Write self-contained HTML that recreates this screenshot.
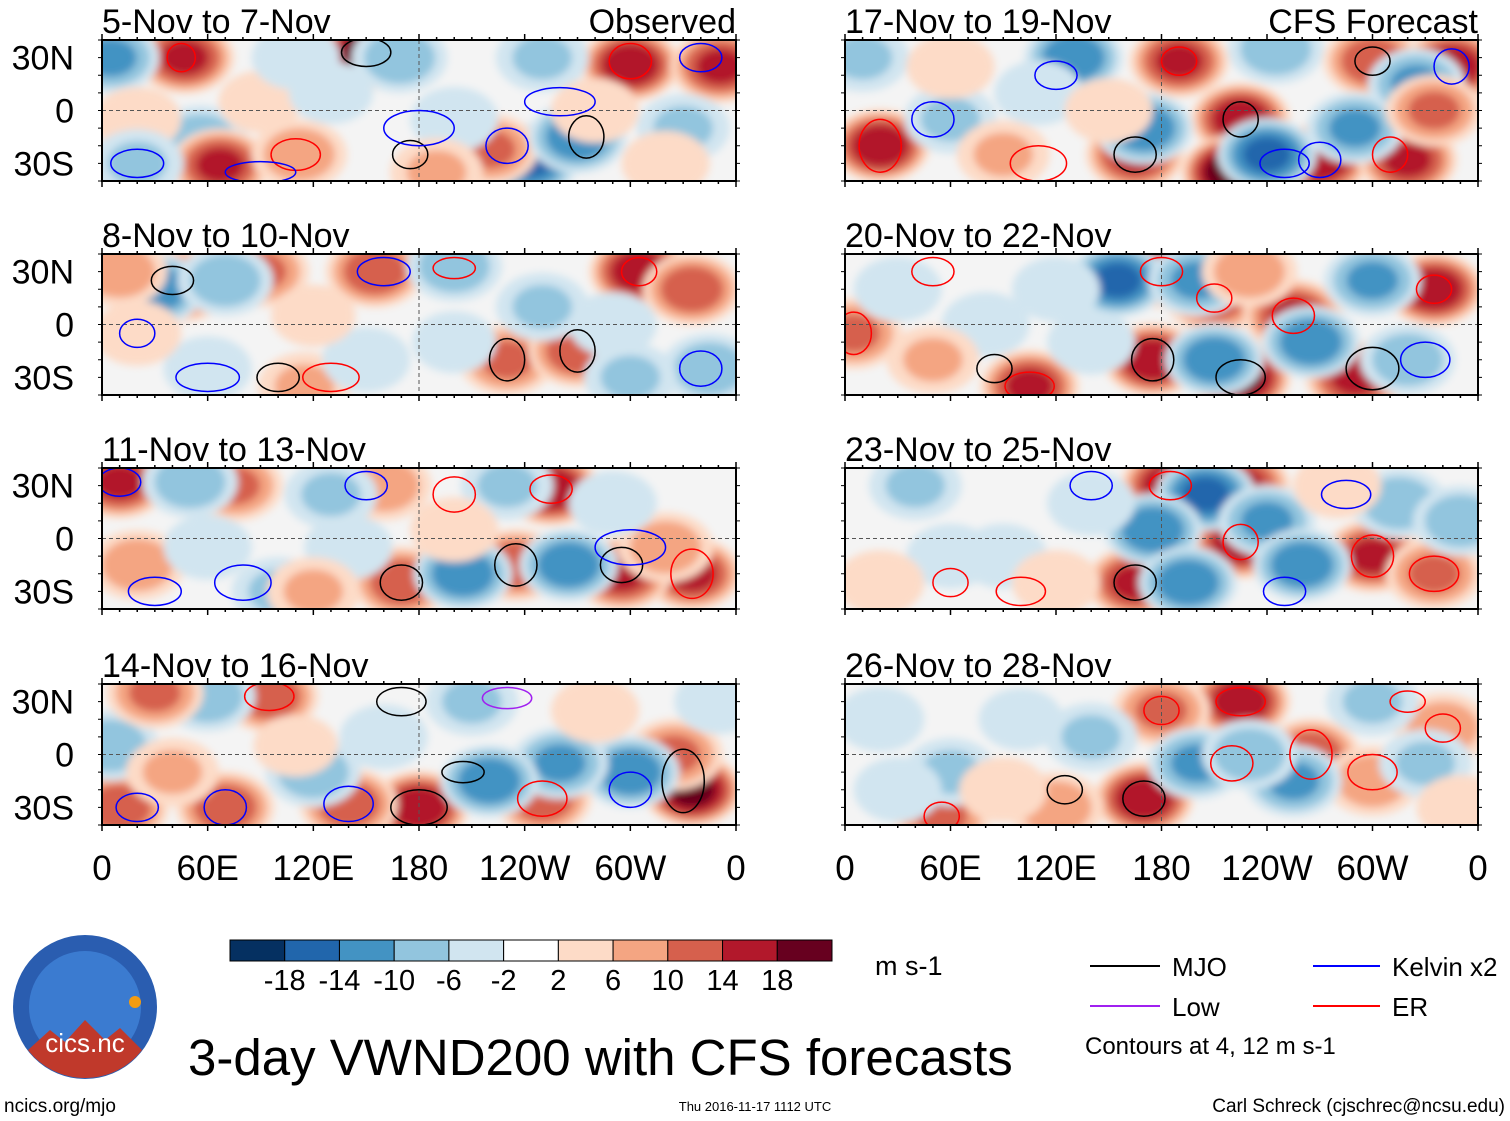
<!DOCTYPE html>
<html><head><meta charset="utf-8">
<style>
body{margin:0;background:#fff;width:1510px;height:1121px;overflow:hidden;font-family:"Liberation Sans",sans-serif;}
svg text{font-family:"Liberation Sans",sans-serif;}
</style></head>
<body>
<svg id="fig" width="1510" height="1121" viewBox="0 0 1510 1121" xmlns="http://www.w3.org/2000/svg" style="position:absolute;left:0;top:0">
<defs>
<filter id="blur" x="-20%" y="-20%" width="140%" height="140%"><feGaussianBlur stdDeviation="4"/></filter>
</defs>
</svg>
<script>
const NS="http://www.w3.org/2000/svg";
const svg=document.getElementById('fig');
// ---- data ----
const panelTitles=["5-Nov to 7-Nov","8-Nov to 10-Nov","11-Nov to 13-Nov","14-Nov to 16-Nov","17-Nov to 19-Nov","20-Nov to 22-Nov","23-Nov to 25-Nov","26-Nov to 28-Nov"];
const xTickLabels=["0","60E","120E","180","120W","60W","0"];
const xTickLons=[0,60,120,180,240,300,360];
const latLabels=["30N","0","30S"];
const latValues=[30,0,-30];
const cbLevels=[-18,-14,-10,-6,-2,2,6,10,14,18];
const cbColors=["#053061","#2166ac","#4393c3","#92c5de","#d1e5f0","#ffffff","#fddbc7","#f4a582","#d6604d","#b2182b","#67001f"];
// blobs per panel: [lon, lat, value]
const blobs0=[[47,30,16],[152,33,22],[300,26,18],[351,25,16],[5,30,-12],[56,-17,-10],[67,-31,16],[243,-28,-16],[220,-22,12],[169,30,-10],[112,-25,10],[270,-15,-14],[200,-5,-6],[330,-10,-8],[250,30,-8],[20,-5,6],[90,5,5],[130,10,-5],[280,0,6],[110,30,-6],[20,-30,-8],[190,-35,8],[320,-30,6]];
const blobs1=[[45,22,16],[90,30,12],[155,30,14],[305,30,18],[335,20,14],[30,20,-14],[70,25,-10],[230,-20,12],[270,-15,14],[200,33,-10],[250,10,-8],[115,-35,8],[345,-25,-10],[10,30,10],[300,-30,-8],[60,-25,-6],[150,-20,-6],[200,-10,-5],[120,5,5],[290,0,-6],[20,-5,6]];
const blobs2=[[10,32,16],[75,30,12],[160,30,10],[255,28,18],[335,-20,16],[295,-20,16],[235,-15,14],[170,-25,14],[205,-20,-14],[265,-15,-14],[50,32,-10],[130,25,-8],[320,-5,10],[20,-15,10],[100,-30,-8],[230,30,-8],[60,-5,-6],[140,-5,-6],[200,5,6],[290,20,-6],[120,-30,8]];
const blobs3=[[10,-30,14],[95,33,14],[180,-30,18],[140,-28,14],[70,-30,14],[335,-20,20],[325,0,12],[250,-25,14],[300,-10,-14],[260,-5,-12],[220,-15,-14],[60,33,-10],[210,30,-8],[120,-10,-10],[5,5,-10],[30,35,12],[160,10,-6],[40,-10,8],[280,25,6],[110,5,5],[350,30,-6]];
const blobs4=[[20,-20,18],[190,28,16],[300,28,14],[345,25,18],[225,-5,18],[165,-25,16],[270,-28,18],[320,-28,16],[220,-35,22],[130,30,-14],[170,-10,-14],[240,-25,-16],[290,-10,-12],[325,15,-12],[245,35,-10],[60,-5,-8],[10,30,-8],[335,0,12],[90,-25,8],[110,10,-6],[60,25,6],[150,0,6]];
const blobs5=[[180,30,18],[225,-30,20],[210,15,14],[335,20,18],[255,5,16],[175,-20,18],[105,-35,16],[290,-30,16],[5,-5,12],[155,25,-16],[210,-20,-14],[265,-10,-14],[300,25,-12],[200,25,-12],[230,30,10],[320,-20,-10],[80,0,-6],[50,-20,8],[120,20,-6],[30,20,-6],[140,-10,-6]];
const blobs6=[[185,30,18],[225,30,16],[225,-2,18],[165,-25,16],[300,-10,16],[335,-20,12],[205,25,-16],[175,5,-14],[240,10,-12],[260,-15,-14],[195,-25,-14],[315,20,-10],[350,10,-10],[90,-10,-6],[40,30,-8],[120,-25,6],[60,-10,-6],[20,-25,6],[140,20,-6],[280,30,6]];
const blobs7=[[170,-25,18],[225,30,18],[180,25,12],[265,0,14],[120,-30,10],[55,-35,12],[340,15,10],[300,-15,10],[200,-5,-12],[255,-15,-12],[230,0,-10],[140,10,-8],[60,-10,-8],[330,-5,-8],[20,20,-6],[300,30,-8],[90,-20,6],[100,20,-5],[30,-20,-6],[350,-30,6]];
const blobsAll=[blobs0,blobs1,blobs2,blobs3,blobs4,blobs5,blobs6,blobs7];
// contours per panel: [lon, lat, rx(deg), ry(deg), type] type: 0 MJO,1 Kelvin,2 ER,3 Low
const cont0=[[150,33,14,8,0],[300,28,12,10,2],[45,30,8,8,2],[110,-25,14,9,2],[175,-25,10,8,0],[230,-20,12,10,1],[275,-15,10,12,0],[260,5,20,8,1],[180,-10,20,10,1],[340,30,12,8,1],[20,-30,15,8,1],[90,-35,20,6,1]];
const cont1=[[40,25,12,8,0],[160,30,15,8,1],[305,30,10,8,2],[230,-20,10,12,0],[270,-15,10,12,0],[340,-25,12,10,1],[130,-30,16,8,2],[60,-30,18,8,1],[20,-5,10,8,1],[200,32,12,6,2],[100,-30,12,8,0]];
const cont2=[[10,32,12,8,1],[150,30,12,8,1],[255,28,12,8,2],[335,-20,12,14,2],[295,-15,12,10,0],[235,-15,12,12,0],[170,-25,12,10,0],[300,-5,20,10,1],[80,-25,16,10,1],[200,25,12,10,2],[30,-30,15,8,1]];
const cont3=[[20,-30,12,8,1],[95,33,14,8,2],[180,-30,16,10,0],[140,-28,14,10,1],[70,-30,12,10,1],[330,-15,12,18,0],[250,-25,14,10,2],[205,-10,12,6,0],[170,30,14,8,0],[230,32,14,6,3],[300,-20,12,10,1]];
const cont4=[[20,-20,12,15,2],[190,28,10,8,2],[300,28,10,8,0],[345,25,10,10,1],[225,-5,10,10,0],[165,-25,12,10,0],[270,-28,12,10,1],[110,-30,16,10,2],[250,-30,14,8,1],[310,-25,10,10,2],[50,-5,12,10,1],[120,20,12,8,1]];
const cont5=[[180,30,12,8,2],[225,-30,14,10,0],[210,15,10,8,2],[335,20,10,8,2],[255,5,12,10,2],[175,-20,12,12,0],[105,-35,14,8,2],[300,-25,15,12,0],[5,-5,10,12,2],[330,-20,14,10,1],[50,30,12,8,2],[85,-25,10,8,0]];
const cont6=[[185,30,12,8,2],[225,-2,10,10,2],[165,-25,12,10,0],[300,-10,12,12,2],[335,-20,14,10,2],[250,-30,12,8,1],[60,-25,10,8,2],[100,-30,14,8,2],[285,25,14,8,1],[140,30,12,8,1]];
const cont7=[[170,-25,12,10,0],[225,30,14,8,2],[180,25,10,8,2],[265,0,12,14,2],[125,-20,10,8,0],[55,-35,10,8,2],[340,15,10,8,2],[300,-10,14,10,2],[220,-5,12,10,2],[320,30,10,6,2]];
const contAll=[cont0,cont1,cont2,cont3,cont4,cont5,cont6,cont7];
const contColors=["#000000","#0000ff","#ff0000","#a020f0"];
// ---- layout ----
const colX=[102,845], colW=[634,633], rowY=[40,254,468,684], PH=141;
function el(tag,attrs,parent){const e=document.createElementNS(NS,tag);for(const k in attrs)e.setAttribute(k,attrs[k]);(parent||svg).appendChild(e);return e;}
function colorFor(v){let i=0;while(i<cbLevels.length&&v>cbLevels[i])i++;return cbColors[i];}
for(let p=0;p<8;p++){
  const c=p<4?0:1, r=p%4;
  const x0=colX[c], w=colW[c], y0=rowY[r];
  const xs=lon=>x0+lon/360*w, ys=lat=>y0+(40-lat)/80*PH;
  const g=el('g',{});
  
  
  const cid='clip'+p;
  const cp=el('clipPath',{id:cid},svg.querySelector('defs'));
  el('rect',{x:x0,y:y0,width:w,height:PH},cp);
  el('rect',{x:x0,y:y0,width:w,height:PH,fill:'#f4f4f4'},g);
  const field=el('g',{'clip-path':'url(#'+cid+')'},g);
  const fb=el('g',{filter:'url(#blur)'},field);
  blobsAll[p].forEach(b=>{
    const [lon,lat,v]=b, a=Math.abs(v), s=Math.sign(v);
    const lv=[2,6,10,14,18].filter(l=>l<a);
    lv.forEach(l=>{
      const f=Math.sqrt(1-l/a/1.1);
      const e=el('ellipse',{cx:xs(lon),cy:ys(lat),rx:f*30/360*w,ry:f*22/80*PH,fill:colorFor(s*(l+1))},fb);
      
      
    });
  });
  el('line',{x1:x0,x2:x0+w,y1:ys(0),y2:ys(0),stroke:'#555','stroke-dasharray':'4,3','stroke-width':1},field);
  el('line',{x1:xs(180),x2:xs(180),y1:y0,y2:y0+PH,stroke:'#555','stroke-dasharray':'4,3','stroke-width':1},field);
  contAll[p].forEach(q=>{
    const e=el('ellipse',{cx:xs(q[0]),cy:ys(q[1]),rx:q[2]/360*w,ry:q[3]/80*PH,fill:'none',stroke:contColors[q[4]],'stroke-width':1.5},field);
    
    
  });
  el('rect',{x:x0,y:y0,width:w,height:PH,fill:'none',stroke:'#000','stroke-width':2},g);
  for(let lon=0;lon<=360;lon+=10){
    const L=lon%60==0?6:3;
    el('line',{x1:xs(lon),x2:xs(lon),y1:y0,y2:y0-L,stroke:'#000','stroke-width':1.5},g);
    el('line',{x1:xs(lon),x2:xs(lon),y1:y0+PH,y2:y0+PH+L,stroke:'#000','stroke-width':1.5},g);
  }
  for(let lat=-40;lat<=40;lat+=10){
    el('line',{x1:x0,x2:x0-4,y1:ys(lat),y2:ys(lat),stroke:'#000'},g);
    el('line',{x1:x0+w,x2:x0+w+4,y1:ys(lat),y2:ys(lat),stroke:'#000'},g);
  }
  const t=el('text',{x:x0,y:y0-7,'font-size':34},g);t.textContent=panelTitles[p];
  
  
  if(r==0){const t2=el('text',{x:x0+w,y:y0-7,'font-size':34,'text-anchor':'end'},g);t2.textContent=c==0?'Observed':'CFS Forecast';
    
    }
  if(c==0){latValues.forEach((lt,i)=>{const tl=el('text',{x:74,y:ys(lt)+12,'font-size':34,'text-anchor':'end'},g);tl.textContent=latLabels[i];
    
    });}
  if(r==3){xTickLons.forEach((ln,i)=>{const tl=el('text',{x:xs(ln),y:880,'font-size':35,'text-anchor':'middle'},g);tl.textContent=xTickLabels[i];
    
    });}
}
// colorbar
const cb=el('g',{});


const cbx=230,cbw=602,cby=940,cbh=21,bw=cbw/cbColors.length;
cbColors.forEach((col,i)=>el('rect',{x:cbx+i*bw,y:cby,width:bw,height:cbh,fill:col,stroke:'#000','stroke-width':1},cb));
cbLevels.forEach((lv,i)=>{const t=el('text',{x:cbx+(i+1)*bw,y:990,'font-size':29,'text-anchor':'middle'},cb);t.textContent=lv;
  
  });
</script>
<svg style="position:absolute;left:0;top:0" width="1510" height="1121">
<text x="875" y="975" font-size="27">m s-1</text>
<line x1="1090" y1="966" x2="1160" y2="966" stroke="#000" stroke-width="2"/>
<text x="1172" y="976" font-size="26">MJO</text>
<line x1="1090" y1="1006" x2="1160" y2="1006" stroke="#a020f0" stroke-width="2"/>
<text x="1172" y="1016" font-size="26">Low</text>
<line x1="1313" y1="966" x2="1380" y2="966" stroke="#0000ff" stroke-width="2"/>
<text x="1392" y="976" font-size="26">Kelvin x2</text>
<line x1="1313" y1="1006" x2="1380" y2="1006" stroke="#ff0000" stroke-width="2"/>
<text x="1392" y="1016" font-size="26">ER</text>
<text x="1085" y="1054" font-size="24">Contours at 4, 12 m s-1</text>
<text x="188" y="1075" font-size="51">3-day VWND200 with CFS forecasts</text>
<text x="4" y="1112" font-size="19">ncics.org/mjo</text>
<text x="755" y="1111" font-size="13" text-anchor="middle">Thu 2016-11-17 1112 UTC</text>
<text x="1505" y="1112" font-size="19" text-anchor="end">Carl Schreck (cjschrec@ncsu.edu)</text>
<g>
<circle cx="85" cy="1007" r="72" fill="#2a5db0"/>
<circle cx="85" cy="1007" r="56" fill="#3b7bd0"/>
<path d="M28 1050 L50 1030 L65 1042 L85 1020 L105 1040 L120 1028 L142 1050 A72 72 0 0 1 28 1050Z" fill="#c0392b"/>
<text x="85" y="1052" font-size="26" fill="#fff" text-anchor="middle">cics.nc</text>
<circle cx="135" cy="1002" r="6" fill="#f39c12"/>
</g>
</svg>
</body></html>
